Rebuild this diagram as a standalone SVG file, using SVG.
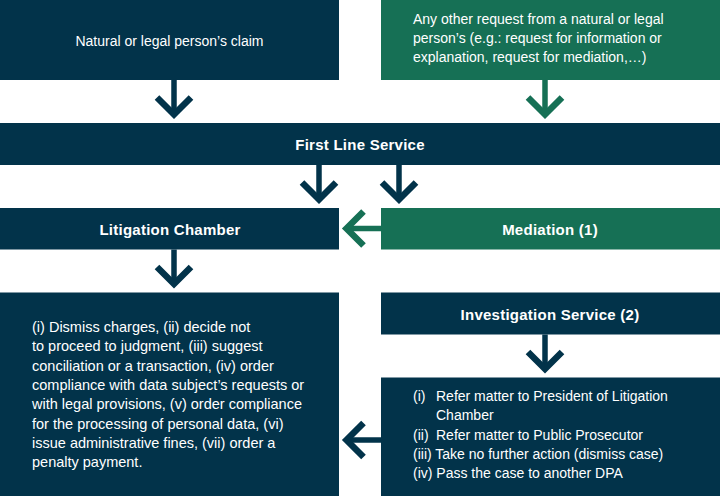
<svg xmlns="http://www.w3.org/2000/svg" xmlns:xlink="http://www.w3.org/1999/xlink" width="720" height="496" viewBox="0 0 720 496">
  <style>
    .navy { fill: #02334A; }
    .green { fill: #167055; }
    .t { font-family: "Liberation Sans", Arial, sans-serif; font-size: 14px; fill: #ffffff; }
    .l { font-size: 14.5px; }
    .b { font-family: "Liberation Sans", Arial, sans-serif; font-size: 15px; font-weight: bold; letter-spacing: 0.25px; fill: #ffffff; text-anchor: middle; }
    .c { text-anchor: middle; }
  </style>
  <defs>
    <g id="arrow" fill="none" stroke-linejoin="miter" stroke-miterlimit="4">
      <line x1="0" y1="0" x2="0" y2="34" stroke-width="5.5"/>
      <polyline points="-17,17.5 0,34.5 17,17.5" stroke-width="6.5"/>
    </g>
  </defs>
  <rect width="720" height="496" fill="#ffffff"/>

  <g id="claim">
    <rect class="navy" x="0" y="0" width="339" height="80"/>
    <text class="t c" x="169.5" y="46">Natural or legal person’s claim</text>
  </g>

  <g id="other-request">
    <rect class="green" x="381" y="0" width="339" height="80"/>
    <text class="t" x="413" y="23.5">Any other request from a natural or legal</text>
    <text class="t" x="413" y="42.7">person’s (e.g.: request for information or</text>
    <text class="t" x="413" y="62">explanation, request for mediation,…)</text>
  </g>

  <g id="first-line">
    <rect class="navy" x="0" y="123" width="720" height="42"/>
    <text class="b" x="360" y="150">First Line Service</text>
  </g>

  <g id="litigation">
    <rect class="navy" x="0" y="208" width="339" height="41.5"/>
    <text class="b" x="170" y="234.5">Litigation Chamber</text>
  </g>

  <g id="mediation">
    <rect class="green" x="381" y="208" width="339" height="41.5"/>
    <text class="b" x="550" y="234.5">Mediation (1)</text>
  </g>

  <g id="decisions">
    <rect class="navy" x="0" y="292.5" width="339" height="203.5"/>
    <text class="t l" x="32" y="332">(i) Dismiss charges, (ii) decide not</text>
    <text class="t l" x="32" y="351.3">to proceed to judgment, (iii) suggest</text>
    <text class="t l" x="32" y="370.6">conciliation or a transaction, (iv) order</text>
    <text class="t l" x="32" y="389.9">compliance with data subject’s requests or</text>
    <text class="t l" x="32" y="409.2">with legal provisions, (v) order compliance</text>
    <text class="t l" x="32" y="428.5">for the processing of personal data, (vi)</text>
    <text class="t l" x="32" y="447.8">issue administrative fines, (vii) order a</text>
    <text class="t l" x="32" y="467.1">penalty payment.</text>
  </g>

  <g id="investigation">
    <rect class="navy" x="381" y="292.5" width="339" height="42"/>
    <text class="b" x="550" y="319.5">Investigation Service (2)</text>
  </g>

  <g id="outcomes">
    <rect class="navy" x="381" y="377.5" width="339" height="118.5"/>
    <text class="t" x="413" y="401">(i)</text>
    <text class="t" x="436" y="401">Refer matter to President of Litigation</text>
    <text class="t" x="436" y="420.3">Chamber</text>
    <text class="t" x="413" y="439.6">(ii)</text>
    <text class="t" x="436" y="439.6">Refer matter to Public Prosecutor</text>
    <text class="t" x="413" y="458.9">(iii) Take no further action (dismiss case)</text>
    <text class="t" x="413" y="478.2">(iv) Pass the case to another DPA</text>
  </g>

  <g id="connectors">
    <use xlink:href="#arrow" href="#arrow" stroke="#02334A" transform="translate(174,80)"/>
    <use xlink:href="#arrow" href="#arrow" stroke="#167055" transform="translate(545,80)"/>
    <use xlink:href="#arrow" href="#arrow" stroke="#02334A" transform="translate(319,165)"/>
    <use xlink:href="#arrow" href="#arrow" stroke="#02334A" transform="translate(399,165)"/>
    <use xlink:href="#arrow" href="#arrow" stroke="#167055" transform="translate(381,228.5) rotate(90)"/>
    <use xlink:href="#arrow" href="#arrow" stroke="#02334A" transform="translate(174,249.5)"/>
    <use xlink:href="#arrow" href="#arrow" stroke="#02334A" transform="translate(545,334.5)"/>
    <use xlink:href="#arrow" href="#arrow" stroke="#02334A" transform="translate(381,440) rotate(90)"/>
  </g>
</svg>
